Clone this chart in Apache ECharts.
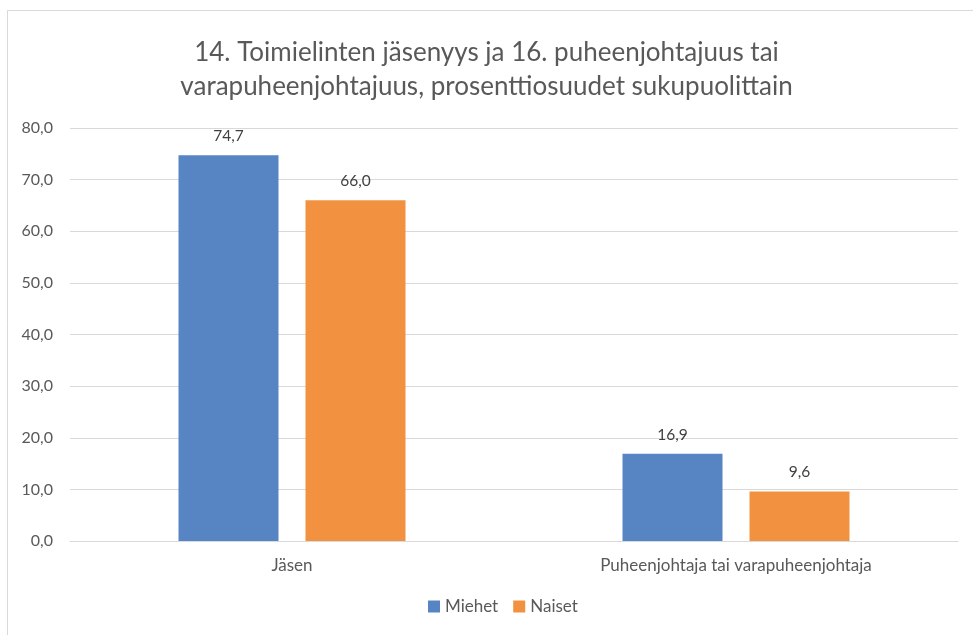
<!DOCTYPE html>
<html>
<head>
<meta charset="utf-8">
<script src="https://cdn.jsdelivr.net/npm/echarts@6/dist/echarts.min.js"></script>
<style>
  html, body { margin: 0; padding: 0; background: #fff; }
  #chart { width: 973px; height: 635px; }
</style>
</head>
<body>
<div id="chart"></div>
<script>
var categories = ['Jäsen', 'Puheenjohtaja tai varapuheenjohtaja'];
var miehet = [74.7, 16.9];
var naiset = [66.0, 9.6];
var yTicks = [0, 10, 20, 30, 40, 50, 60, 70, 80];

var myChart = echarts.init(document.getElementById('chart'));
var font = 'Lato, "Open Sans", sans-serif';

function fi(v) {
    return v.toFixed(1).replace('.', ',');
}

var option = {
    animation: false,
    textStyle: { fontFamily: font },
    title: {
        text: '14. Toimielinten jäsenyys ja 16. puheenjohtajuus tai\nvarapuheenjohtajuus, prosenttiosuudet sukupuolittain',
        left: 'center',
        top: 31,
        textStyle: { fontFamily: font, fontSize: 26, fontWeight: 'normal', color: '#595959', lineHeight: 34 }
    },
    graphic: [{
        type: 'rect',
        shape: { x: 7.5, y: 10.5, width: 1000, height: 700 },
        style: { fill: 'none', stroke: '#d9d9d9', lineWidth: 1 },
        silent: true
    }],
    legend: {
        data: ['Miehet', 'Naiset'],
        bottom: 15,
        left: 423,
        icon: 'rect',
        itemWidth: 12,
        itemHeight: 12,
        itemGap: 15,
        itemTextGap: 3,
        textStyle: { fontFamily: font, fontSize: 17, color: '#595959' }
    },
    grid: { left: 70, right: 15, top: 128, bottom: 94, containLabel: false },
    xAxis: {
        type: 'category',
        data: categories,
        axisLine: { lineStyle: { color: '#d9d9d9' } },
        axisTick: { show: false },
        axisLabel: { fontFamily: font, fontSize: 17, color: '#595959', margin: 16 }
    },
    yAxis: {
        type: 'value',
        min: yTicks[0],
        max: yTicks[yTicks.length - 1],
        interval: 10,
        axisLine: { show: false },
        axisTick: { show: false },
        splitLine: { lineStyle: { color: '#d9d9d9' } },
        axisLabel: { fontFamily: font, fontSize: 16, color: '#595959', margin: 17, formatter: fi }
    },
    series: [{
        name: 'Miehet',
        type: 'bar',
        data: miehet,
        barWidth: 100,
        barGap: '27%',
        itemStyle: { color: '#5785c4' },
        label: { show: true, position: 'top', distance: 11, fontFamily: font, fontSize: 15.5, color: '#404040', formatter: function (p) { return fi(p.value); } }
    }, {
        name: 'Naiset',
        type: 'bar',
        data: naiset,
        barWidth: 100,
        itemStyle: { color: '#f29240' },
        label: { show: true, position: 'top', distance: 11, fontFamily: font, fontSize: 15.5, color: '#404040', formatter: function (p) { return fi(p.value); } }
    }]
};

myChart.setOption(option);
</script>
</body>
</html>
